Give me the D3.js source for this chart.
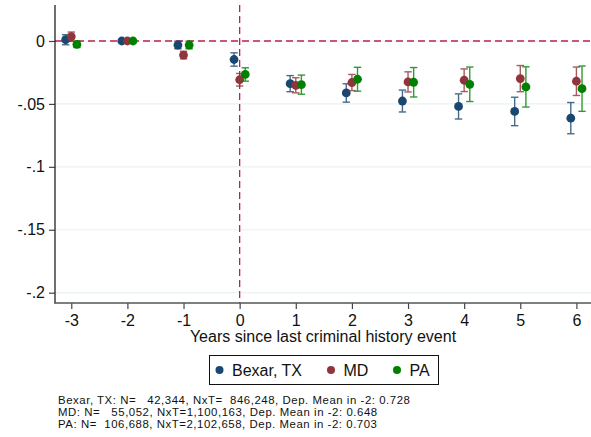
<!DOCTYPE html>
<html>
<head>
<meta charset="utf-8">
<script src="https://cdn.jsdelivr.net/npm/d3@7"></script>
<style>
  body { margin: 0; background: #fff; }
  svg { display: block; font-family: "Liberation Sans", Arial, Helvetica, sans-serif; }
</style>
</head>
<body>
<div id="container"></div>
<script>
	var years = [-3, -2, -1, 0, 1, 2, 3, 4, 5, 6];
	var yTicks = [0, -0.05, -0.1, -0.15, -0.2];
	var yTickLabels = ["0", "-.05", "-.1", "-.15", "-.2"];

	// point estimates and half-width of the 95% CI
	var bexar   = [0.001, 0, -0.0032, -0.0147, -0.0339, -0.0413, -0.0477, -0.052, -0.056, -0.0613];
	var bexarCI = [0.004, 0, 0.003, 0.0053, 0.0064, 0.0073, 0.0087, 0.010, 0.0113, 0.0124];
	var md      = [0.0035, 0, -0.0112, -0.0308, -0.0352, -0.033, -0.0325, -0.0312, -0.0299, -0.032];
	var mdCI    = [0.0036, 0, 0.003, 0.005, 0.006, 0.0064, 0.008, 0.009, 0.0104, 0.0113];
	var pa      = [-0.0027, 0, -0.0032, -0.0266, -0.0347, -0.0304, -0.0328, -0.0344, -0.0365, -0.0379];
	var paCI    = [0.0025, 0, 0.003, 0.0053, 0.0076, 0.0095, 0.0117, 0.0137, 0.016, 0.018];

	var seriesNames = ["Bexar, TX", "MD", "PA"];
	var notes = [
		"Bexar, TX: N=   42,344, NxT=  846,248, Dep. Mean in -2: 0.728",
		"MD: N=   55,052, NxT=1,100,163, Dep. Mean in -2: 0.648",
		"PA: N=  106,688, NxT=2,102,658, Dep. Mean in -2: 0.703"
	];

	var series = [
		{name: seriesNames[0], vals: bexar, ci: bexarCI, color: "#1a476f", off: -0.1},
		{name: seriesNames[1], vals: md, ci: mdCI, color: "#90353b", off: 0},
		{name: seriesNames[2], vals: pa, ci: paCI, color: "#008000", off: 0.1}
	];

	var width = 591, height = 437;

	var x = d3.scaleLinear().domain([-3.29, 6.26]).range([55, 591]);
	var y = d3.scaleLinear().domain([-0.2082, 0.0286]).range([303, 5]);

	var svg = d3.select('#container')
		.append('svg')
		.attr('width', width)
		.attr('height', height);

	// grid
	svg.append('g').selectAll('line')
		.data(yTicks)
		.enter().append('line')
		.attr("x1", 55).attr("x2", 591)
		.attr("y1", function(d){return y(d)})
		.attr("y2", function(d){return y(d)})
		.style("stroke", "#eaf2f3")
		.style("stroke-width", 1.2);

	// reference lines
	svg.append('line')
		.attr("x1", 55).attr("x2", 591)
		.attr("y1", y(0)).attr("y2", y(0))
		.style("stroke", "#c0204c")
		.style("stroke-width", 1.3)
		.style("stroke-dasharray", "7,4");
	svg.append('line')
		.attr("x1", x(0)).attr("x2", x(0))
		.attr("y1", y.range()[1]).attr("y2", y.range()[0])
		.style("stroke", "#c0204c")
		.style("stroke-width", 1.3)
		.style("stroke-dasharray", "7,4");

	// axes
	var yAxis = d3.axisLeft(y)
		.tickValues(yTicks)
		.tickFormat(function(d,i){return yTickLabels[i]})
		.tickSize(6)
		.tickPadding(4);
	var gy = svg.append('g').attr("transform", "translate(55,0)").call(yAxis);

	var xAxis = d3.axisBottom(x)
		.tickValues(years)
		.tickFormat(function(d){return d})
		.tickSize(6)
		.tickPadding(6);
	var gx = svg.append('g').attr("transform", "translate(0,303)").call(xAxis);

	[gx, gy].forEach(function(g){
		g.select('.domain').attr("d", null);
		g.selectAll('.tick line').style("stroke", "#444").style("stroke-width", 1.2);
		g.selectAll('.tick text')
			.style("font-size", "16px")
			.style("fill", "#111")
			.style("font-family", "\"Liberation Sans\", Arial, sans-serif");
	});
	svg.append('line')
		.attr("x1", 55).attr("x2", 55)
		.attr("y1", 5).attr("y2", 303.5)
		.style("stroke", "#222").style("stroke-width", 1.3);
	svg.append('line')
		.attr("x1", 54.5).attr("x2", 591)
		.attr("y1", 303).attr("y2", 303)
		.style("stroke", "#555").style("stroke-width", 1.3);

	svg.append('text')
		.attr("x", (55 + 591) / 2)
		.attr("y", 342)
		.attr("text-anchor", "middle")
		.style("font-size", "16px")
		.style("fill", "#111")
		.text("Years since last criminal history event");

	// estimates with CI caps
	series.forEach(function(s){
		var g = svg.append('g');
		var bars = g.selectAll('g.bar')
			.data(years)
			.enter().append('g')
			.attr("class", "bar")
			.style("stroke", s.color)
			.style("stroke-width", 1.4)
			.style("opacity", 0.8);
		bars.append('line')
			.attr("x1", function(d){return x(d + s.off)})
			.attr("x2", function(d){return x(d + s.off)})
			.attr("y1", function(d,i){return y(s.vals[i] + s.ci[i])})
			.attr("y2", function(d,i){return y(s.vals[i] - s.ci[i])});
		bars.append('line')
			.attr("x1", function(d){return x(d + s.off) - 3.7})
			.attr("x2", function(d){return x(d + s.off) + 3.7})
			.attr("y1", function(d,i){return y(s.vals[i] + s.ci[i])})
			.attr("y2", function(d,i){return y(s.vals[i] + s.ci[i])});
		bars.append('line')
			.attr("x1", function(d){return x(d + s.off) - 3.7})
			.attr("x2", function(d){return x(d + s.off) + 3.7})
			.attr("y1", function(d,i){return y(s.vals[i] - s.ci[i])})
			.attr("y2", function(d,i){return y(s.vals[i] - s.ci[i])});

		g.selectAll('circle')
			.data(years)
			.enter().append('circle')
			.attr("cx", function(d){return x(d + s.off)})
			.attr("cy", function(d,i){return y(s.vals[i])})
			.attr("r", 4.4)
			.style("fill", s.color);
	});

	// legend
	var legend = svg.append('g');
	legend.append('rect')
		.attr("x", 209.5).attr("y", 355.5)
		.attr("width", 229).attr("height", 29)
		.style("fill", "white")
		.style("stroke", "#111")
		.style("stroke-width", 1);
	var legX = [219.5, 331, 397];
	series.forEach(function(s, i){
		legend.append('circle')
			.attr("cx", legX[i]).attr("cy", 370)
			.attr("r", 4)
			.style("fill", s.color);
		legend.append('text')
			.attr("x", legX[i] + 12.5).attr("y", 376)
			.style("font-size", "16px")
			.style("fill", "#111")
			.text(s.name);
	});

	// notes
	svg.append('g').selectAll('text')
		.data(notes)
		.enter().append('text')
		.attr("x", 58)
		.attr("y", function(d,i){return 403.5 + i * 12.2})
		.attr("xml:space", "preserve")
		.style("white-space", "pre")
		.style("font-size", "11.4px")
		.style("letter-spacing", "0.55px")
		.style("fill", "#111")
		.text(function(d){return d});
</script>
</body>
</html>
